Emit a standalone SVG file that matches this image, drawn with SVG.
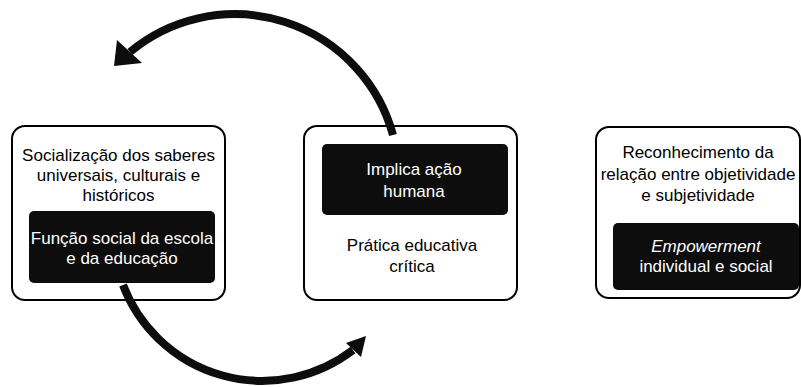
<svg xmlns="http://www.w3.org/2000/svg" width="801" height="387" viewBox="0 0 801 387">
<style>
.outer{fill:#fff;stroke:#000;stroke-width:2}
.inner{fill:#0d0d0d}
text{font-family:"Liberation Sans",Arial,sans-serif;font-size:17px;text-anchor:middle}
.dark{fill:#000}
.light{fill:#fff}
.conn{fill:none;stroke:#0d0d0d;stroke-width:8}
.head{fill:#0d0d0d}
</style>
<rect width="801" height="387" fill="#fff"/>
<g id="node-funcao-social">
<rect class="outer" x="12" y="126" width="213" height="174" rx="13"/>
<text class="dark" x="118.5" y="161">Socialização dos saberes</text>
<text class="dark" x="118.5" y="181">universais, culturais e</text>
<text class="dark" x="118.5" y="201">históricos</text>
<rect class="inner" x="29" y="211" width="186" height="72" rx="5"/>
<text class="light" x="122" y="244">Função social da escola</text>
<text class="light" x="122" y="264">e da educação</text>
</g>
<g id="node-pratica-educativa">
<rect class="outer" x="304" y="126" width="213" height="174" rx="13"/>
<rect class="inner" x="322" y="144" width="186" height="71" rx="5"/>
<text class="light" x="414" y="175">Implica ação</text>
<text class="light" x="414" y="197">humana</text>
<text class="dark" x="412" y="251">Prática educativa</text>
<text class="dark" x="412" y="272">crítica</text>
</g>
<g id="node-empowerment">
<rect class="outer" x="596" y="127" width="204" height="171" rx="13"/>
<text class="dark" x="698" y="158">Reconhecimento da</text>
<text class="dark" x="698" y="180">relação entre objetividade</text>
<text class="dark" x="698" y="201">e subjetividade</text>
<rect class="inner" x="613" y="223" width="186" height="67" rx="5"/>
<text class="light" x="706" y="252" font-style="italic">Empowerment</text>
<text class="light" x="706" y="272">individual e social</text>
</g>
<g id="connectors">
<path class="conn" d="M393 135 A164 164 0 0 0 130 52"/>
<polygon class="head" points="117,40 142,63 114,66"/>
<path class="conn" d="M123 285 A149 149 0 0 0 353 350"/>
<polygon class="head" points="346,343 361,357 366,336"/>
</g>
</svg>
